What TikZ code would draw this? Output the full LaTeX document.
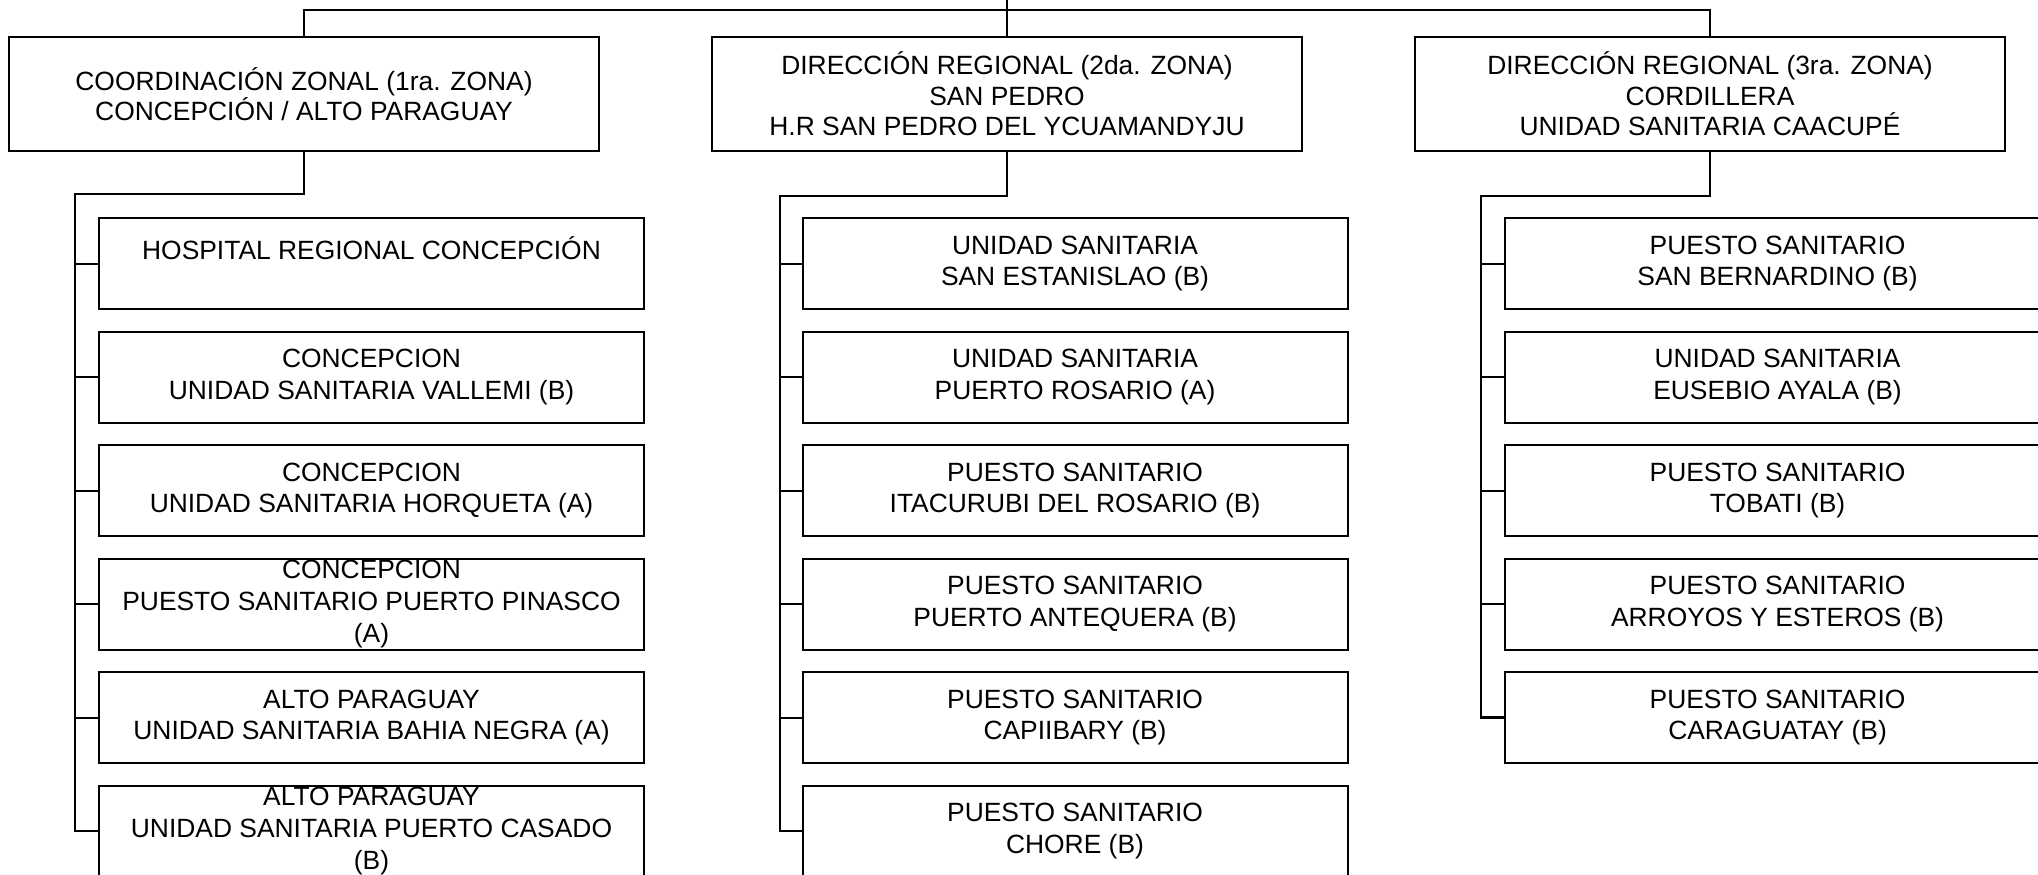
\documentclass[tikz,border=0pt]{standalone}
\usepackage{fontspec}
\setmainfont{Liberation Sans}
\usetikzlibrary{positioning}

\begin{document}
\begin{tikzpicture}[
    x=0.5pt, y=-0.5pt,
    font=\fontsize{13.2pt}{15.8pt}\selectfont,
    zona/.style={draw, line width=1pt, align=center, outer sep=0pt,
                 font=\fontsize{13.2pt}{15.2pt}\selectfont,
                 minimum width=295pt, minimum height=57pt, inner ysep=0pt},
    unidad/.style={draw, line width=1pt, align=center, outer sep=0pt,
                   minimum width=272.5pt, minimum height=45.5pt, inner ysep=0pt},
    linea/.style={line width=1pt},
    tronco/.style={line width=1.3pt}
  ]

    \useasboundingbox (0,0) rectangle (2038,874);
    \clip (0,0) rectangle (2038,874);

    % --- Zonas ---
    \node[zona] (z2) at (1007,94)
      {DIRECCIÓN REGIONAL (2da. ZONA)\\SAN PEDRO\\H.R SAN PEDRO DEL YCUAMANDYJU};
    \node[zona, left=56.5pt of z2] (z1)
      {COORDINACIÓN ZONAL (1ra. ZONA)\\CONCEPCIÓN / ALTO PARAGUAY};
    \node[zona, right=56.5pt of z2] (z3)
      {DIRECCIÓN REGIONAL (3ra. ZONA)\\CORDILLERA\\UNIDAD SANITARIA CAACUPÉ};

    % --- 1ra. zona ---
    \node[unidad] (c11) at (371.5,263.5) {HOSPITAL REGIONAL CONCEPCIÓN\\~};
    \node[unidad, below=11.25pt of c11] (c12) {CONCEPCION\\UNIDAD SANITARIA VALLEMI (B)};
    \node[unidad, below=11.25pt of c12] (c13) {CONCEPCION\\UNIDAD SANITARIA HORQUETA (A)};
    \node[unidad, below=11.25pt of c13] (c14) {CONCEPCION\\PUESTO SANITARIO PUERTO PINASCO\\(A)};
    \node[unidad, below=11.25pt of c14] (c15) {ALTO PARAGUAY\\UNIDAD SANITARIA BAHIA NEGRA (A)};
    \node[unidad, below=11.25pt of c15] (c16) {ALTO PARAGUAY\\UNIDAD SANITARIA PUERTO CASADO\\(B)};

    % --- 2da. zona ---
    \node[unidad] (c21) at (1075,263.5) {UNIDAD SANITARIA\\SAN ESTANISLAO (B)};
    \node[unidad, below=11.25pt of c21] (c22) {UNIDAD SANITARIA\\PUERTO ROSARIO (A)};
    \node[unidad, below=11.25pt of c22] (c23) {PUESTO SANITARIO\\ITACURUBI DEL ROSARIO (B)};
    \node[unidad, below=11.25pt of c23] (c24) {PUESTO SANITARIO\\PUERTO ANTEQUERA (B)};
    \node[unidad, below=11.25pt of c24] (c25) {PUESTO SANITARIO\\CAPIIBARY (B)};
    \node[unidad, below=11.25pt of c25] (c26) {PUESTO SANITARIO\\CHORE (B)};

    % --- 3ra. zona ---
    \node[unidad] (c31) at (1777.5,263.5) {PUESTO SANITARIO\\SAN BERNARDINO (B)};
    \node[unidad, below=11.25pt of c31] (c32) {UNIDAD SANITARIA\\EUSEBIO AYALA (B)};
    \node[unidad, below=11.25pt of c32] (c33) {PUESTO SANITARIO\\TOBATI (B)};
    \node[unidad, below=11.25pt of c33] (c34) {PUESTO SANITARIO\\ARROYOS Y ESTEROS (B)};
    \node[unidad, below=11.25pt of c34] (c35) {PUESTO SANITARIO\\CARAGUATAY (B)};

    % --- Conexiones superiores ---
    \coordinate (arriba) at (1007,0);
    \coordinate (barra) at (1007,10);
    \draw[linea] (arriba) -- (z2.north);
    \draw[linea] (z1.north) |- (barra) -| (z3.north);

    % --- Troncos de cada zona ---
    \coordinate (j1) at (75,194);
    \coordinate (j2) at (780,196);
    \coordinate (j3) at (1481,196);
    \draw[tronco] (z1.south) |- (j1) |- (c16.west);
    \draw[tronco] (z2.south) |- (j2) |- (c26.west);
    \draw[tronco] (z3.south) |- (j3) |- (c35.west);

    % --- Ramas ---
    \draw[linea] (j1 |- c11.west) -- (c11.west);
    \draw[linea] (j1 |- c12.west) -- (c12.west);
    \draw[linea] (j1 |- c13.west) -- (c13.west);
    \draw[linea] (j1 |- c14.west) -- (c14.west);
    \draw[linea] (j1 |- c15.west) -- (c15.west);
    \draw[linea] (j2 |- c21.west) -- (c21.west);
    \draw[linea] (j2 |- c22.west) -- (c22.west);
    \draw[linea] (j2 |- c23.west) -- (c23.west);
    \draw[linea] (j2 |- c24.west) -- (c24.west);
    \draw[linea] (j2 |- c25.west) -- (c25.west);
    \draw[linea] (j3 |- c31.west) -- (c31.west);
    \draw[linea] (j3 |- c32.west) -- (c32.west);
    \draw[linea] (j3 |- c33.west) -- (c33.west);
    \draw[linea] (j3 |- c34.west) -- (c34.west);

\end{tikzpicture}
\end{document}
